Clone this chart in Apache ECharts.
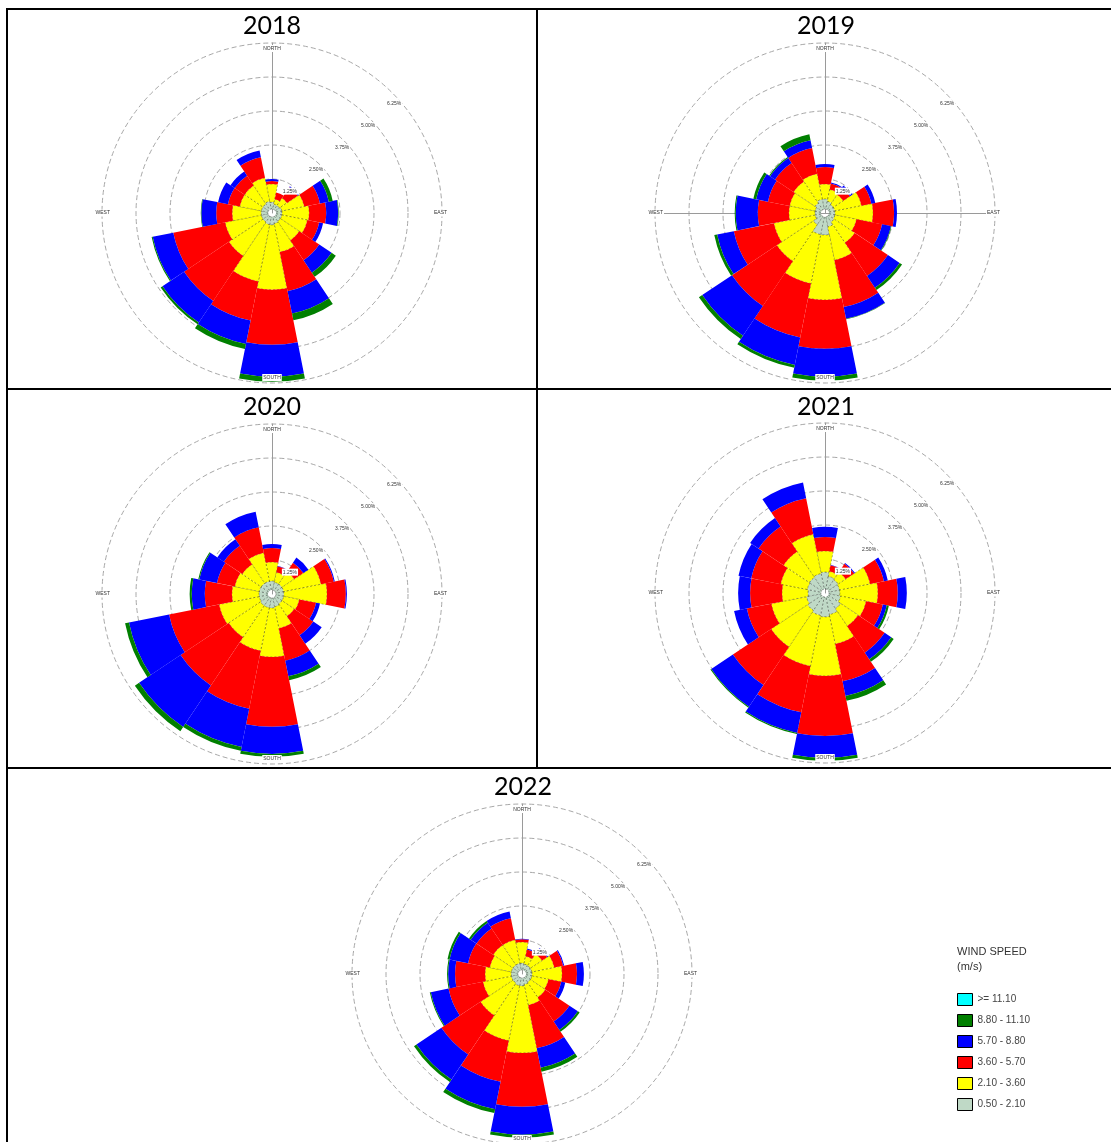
<!DOCTYPE html>
<html><head><meta charset="utf-8">
<script src="https://cdn.jsdelivr.net/npm/echarts@6/dist/echarts.min.js"></script>
<style>html,body{margin:0;padding:0;background:#fff}#c{width:1111px;height:1142px}</style>
</head><body><div id="c"></div><script>
// ---------------- DATA ----------------
const years = ['2018', '2019', '2020', '2021', '2022'];
const directions = ['N','NNE','NE','ENE','E','ESE','SE','SSE','S','SSW','SW','WSW','W','WNW','NW','NNW'];
const speedClasses = ['0.50 - 2.10', '2.10 - 3.60', '3.60 - 5.70', '5.70 - 8.80', '8.80 - 11.10', '>= 11.10'];
const ringMax = 6.25;      // % frequency at outer ring
const ringStep = 1.25;     // % between rings

// frequency (%) per direction, per speed class
const w2018_050 = [0.26,0.19,0.19,0.23,0.23,0.23,0.23,0.26,0.30,0.30,0.26,0.26,0.26,0.26,0.26,0.30];
const w2018_210 = [0.68,0.19,0.34,0.86,1.02,0.98,0.86,1.09,2.44,2.18,1.54,1.39,1.09,0.83,0.83,0.90];
const w2018_360 = [0.11,0.26,0.49,0.60,0.64,0.45,0.90,1.50,2.07,1.50,2.03,1.99,0.60,0.45,0.45,0.79];
const w2018_570 = [0.08,0.00,0.04,0.34,0.45,0.15,0.56,0.86,1.20,0.90,0.98,0.79,0.56,0.38,0.19,0.26];
const w2018_880 = [0.00,0.00,0.00,0.15,0.02,0.00,0.19,0.26,0.19,0.19,0.08,0.04,0.02,0.00,0.00,0.00];
const w2018_1110 = [0,0,0,0,0,0,0,0,0,0,0,0,0,0,0,0];

const w2019_050 = [0.38,0.30,0.23,0.23,0.23,0.23,0.26,0.38,0.68,0.68,0.38,0.23,0.23,0.23,0.30,0.38];
const w2019_210 = [0.56,0.45,0.45,1.02,1.43,0.83,0.94,1.28,2.44,1.88,1.65,1.58,0.98,0.98,0.98,0.98];
const w2019_360 = [0.64,0.23,0.30,0.38,0.79,0.98,1.50,1.80,1.84,2.07,2.03,1.54,1.17,0.83,0.83,0.98];
const w2019_570 = [0.11,0.04,0.11,0.15,0.11,0.34,0.53,0.45,1.05,1.05,1.35,0.64,0.83,0.45,0.23,0.30];
const w2019_880 = [0.00,0.00,0.00,0.00,0.00,0.02,0.11,0.02,0.15,0.11,0.15,0.11,0.04,0.11,0.04,0.23];
const w2019_1110 = [0,0,0,0,0,0,0,0,0,0,0,0,0,0,0,0];

const w2020_050 = [0.34,0.30,0.30,0.30,0.30,0.30,0.30,0.34,0.38,0.38,0.38,0.34,0.34,0.34,0.34,0.34];
const w2020_210 = [0.71,0.38,0.56,1.43,1.62,0.60,0.56,0.83,1.84,1.65,1.43,1.54,1.02,0.94,0.86,1.09];
const w2020_360 = [0.53,0.23,0.41,0.49,0.71,0.64,0.86,1.24,2.63,2.22,2.18,1.92,1.02,0.68,0.83,0.98];
const w2020_570 = [0.15,0.02,0.23,0.04,0.04,0.15,0.38,0.60,1.02,1.47,1.88,1.54,0.49,0.68,0.30,0.60];
const w2020_880 = [0.00,0.00,0.00,0.00,0.00,0.00,0.00,0.15,0.11,0.15,0.19,0.15,0.08,0.04,0.00,0.00];
const w2020_1110 = [0,0,0,0,0,0,0,0,0,0,0,0,0,0,0,0];

const w2021_050 = [0.64,0.49,0.45,0.41,0.41,0.45,0.56,0.68,0.75,0.71,0.64,0.56,0.49,0.53,0.56,0.60];
const w2021_210 = [0.79,0.19,0.34,1.17,1.43,0.98,0.79,1.13,2.22,1.95,1.65,1.35,0.98,1.02,1.17,1.50];
const w2021_360 = [0.53,0.23,0.38,0.53,0.75,0.64,1.20,1.43,2.26,1.77,1.73,0.94,1.20,1.13,1.13,1.39];
const w2021_570 = [0.38,0.02,0.04,0.15,0.34,0.15,0.30,0.56,0.83,0.79,0.98,0.49,0.45,0.49,0.38,0.60];
const w2021_880 = [0.00,0.00,0.00,0.00,0.00,0.08,0.11,0.19,0.11,0.04,0.04,0.00,0.00,0.00,0.00,0.00];
const w2021_1110 = [0,0,0,0,0,0,0,0,0,0,0,0,0,0,0,0];

const w2022_050 = [0.26,0.23,0.23,0.23,0.23,0.23,0.23,0.26,0.30,0.30,0.26,0.26,0.26,0.26,0.26,0.26];
const w2022_210 = [0.79,0.30,0.53,0.86,1.13,0.64,0.68,0.79,2.52,2.11,1.47,1.09,0.98,0.83,0.90,0.90];
const w2022_360 = [0.11,0.26,0.23,0.34,0.56,0.49,1.09,1.65,2.03,1.58,1.77,1.32,1.13,0.83,0.75,0.83];
const w2022_570 = [0.02,0.04,0.04,0.04,0.26,0.15,0.38,0.75,1.05,1.05,1.13,0.68,0.26,0.71,0.26,0.26];
const w2022_880 = [0.00,0.00,0.00,0.00,0.00,0.00,0.08,0.15,0.11,0.15,0.11,0.04,0.04,0.08,0.08,0.00];
const w2022_1110 = [0,0,0,0,0,0,0,0,0,0,0,0,0,0,0,0];

// ---------------- CHART ----------------
const yearData = [
  [w2018_050, w2018_210, w2018_360, w2018_570, w2018_880, w2018_1110],
  [w2019_050, w2019_210, w2019_360, w2019_570, w2019_880, w2019_1110],
  [w2020_050, w2020_210, w2020_360, w2020_570, w2020_880, w2020_1110],
  [w2021_050, w2021_210, w2021_360, w2021_570, w2021_880, w2021_1110],
  [w2022_050, w2022_210, w2022_360, w2022_570, w2022_880, w2022_1110]
];
const classColors = ['#BFD9C6', '#FFFF00', '#FF0000', '#0000FF', '#007F00', '#00FFFF'];
const compassNames = { N: 'NORTH', E: 'EAST', S: 'SOUTH', W: 'WEST' };

const layout = [
  { cx: 272, cy: 213, tx: 272, ty: 26, lines: [90] },
  { cx: 825, cy: 213, tx: 826, ty: 26, lines: [90, 0, 180] },
  { cx: 272, cy: 594, tx: 272, ty: 407, lines: [90] },
  { cx: 825, cy: 593, tx: 826, ty: 407, lines: [90] },
  { cx: 522, cy: 974, tx: 523, ty: 787, lines: [90] }
];
const R = 170, HOLE = 4;

const polar = [], angleAxis = [], radiusAxis = [], series = [];
layout.forEach((L, i) => {
  // rings + direction lines
  L.lines.forEach((ang, j) => {
    const p = polar.length;
    polar.push({ center: [L.cx, L.cy], radius: R });
    angleAxis.push({ polarIndex: p, type: 'value', startAngle: ang, show: false });
    radiusAxis.push({
      polarIndex: p, min: 0, max: ringMax, interval: ringStep, z: 0,
      axisLine: { show: true, lineStyle: { color: '#9a9a9a', width: 1 } },
      axisTick: { show: false }, axisLabel: { show: false },
      splitLine: { show: j === 0, lineStyle: { color: '#a8a8a8', width: 1, type: [5, 3] } }
    });
  });
  // bars
  const a = polar.length;
  polar.push({ center: [L.cx, L.cy], radius: [HOLE, R] });
  angleAxis.push({
    polarIndex: a, type: 'category', data: directions, startAngle: 101.25, clockwise: true, z: 10,
    axisLine: { show: false }, axisTick: { show: false }, splitLine: { show: false },
    axisLabel: {
      show: true, interval: 3, margin: -9, fontSize: 5, color: '#333',
      fontFamily: 'Liberation Sans', backgroundColor: '#fff', padding: [1, 1],
      formatter: v => compassNames[v] || ''
    }
  });
  radiusAxis.push({ polarIndex: a, min: 0, max: ringMax, show: false });
  yearData[i].forEach((arr, k) => {
    series.push({
      type: 'bar', coordinateSystem: 'polar', polarIndex: a, stack: 'rose' + i,
      name: speedClasses[k], data: arr, barCategoryGap: '0%', silent: true,
      itemStyle: k < 2
        ? { color: classColors[k], borderColor: 'rgba(0,0,0,0.55)', borderWidth: 0.6, borderType: [2, 2] }
        : { color: classColors[k] }
    });
  });
  // ring labels
  const c = polar.length;
  polar.push({ center: [L.cx, L.cy], radius: R });
  angleAxis.push({ polarIndex: c, type: 'value', startAngle: 40, show: false });
  radiusAxis.push({
    polarIndex: c, min: 0, max: ringMax, interval: ringStep, z: 10,
    axisLine: { show: false }, axisTick: { show: false }, splitLine: { show: false },
    axisLabel: {
      show: true, showMinLabel: false, margin: 0, fontSize: 5, color: '#333', rotate: 0,
      fontFamily: 'Liberation Sans', backgroundColor: '#fff', padding: [1, 1],
      formatter: v => v.toFixed(2) + '%'
    }
  });
});

const graphic = [];
const line = (x1, y1, x2, y2) => graphic.push({
  type: 'line', shape: { x1, y1, x2, y2 }, style: { stroke: '#000', lineWidth: 2 }, z: 100
});
line(6, 9, 1111, 9);
line(7, 8, 7, 1142);
line(537, 9, 537, 389);
line(537, 389, 537, 768);
line(6, 389, 1111, 389);
line(6, 768, 1111, 768);
layout.forEach((L, i) => graphic.push({
  type: 'text', x: L.tx, y: L.ty, z: 100,
  style: { text: years[i], font: '25px Lato', fill: '#000', align: 'center', verticalAlign: 'middle' }
}));
graphic.push({
  type: 'text', left: 957, top: 944, z: 100,
  style: { text: 'WIND SPEED\n(m/s)', font: '11px "Liberation Sans"', fill: '#333', lineHeight: 15 }
});

const chart = echarts.init(document.getElementById('c'));
chart.setOption({
  animation: false,
  backgroundColor: '#fff',
  polar, angleAxis, radiusAxis, series, graphic,
  legend: {
    data: speedClasses.slice().reverse(), orient: 'vertical', left: 952, top: 988,
    itemWidth: 15, itemHeight: 12, itemGap: 8, icon: 'rect', selectedMode: false,
    itemStyle: { borderColor: '#000', borderWidth: 1, borderType: 'solid' },
    textStyle: { fontSize: 10, color: '#444', fontFamily: 'Liberation Sans' }
  }
});
</script></body></html>
